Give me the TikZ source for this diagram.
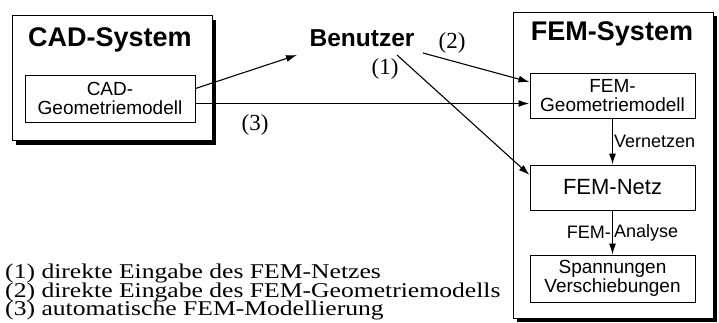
\documentclass[tikz,border=0pt]{standalone}
\usepackage{fontspec}
\setmainfont{Liberation Serif}
\setsansfont{Liberation Sans}
\usetikzlibrary{shadows, arrows.meta}

\tikzset{
  sysbox/.style={draw, fill=white, line width=1pt, inner sep=0pt,
    drop shadow={shadow xshift=4pt, shadow yshift=-4pt, opacity=1, fill=black}},
  modbox/.style={draw, fill=white, line width=1pt, inner sep=0pt, align=center,
    minimum width=165pt, minimum height=45pt, font=\sffamily\fontsize{19}{19.5}\selectfont},
  systitle/.style={font=\sffamily\bfseries\fontsize{27}{30}\selectfont},
  nr/.style={font=\fontsize{23}{25}\selectfont},
  stepname/.style={font=\sffamily\fontsize{18}{20}\selectfont, inner sep=1pt},
  legzeile/.style={anchor=base west, inner sep=0pt, xscale=1.22, transform shape,
    text height=13.5pt, text depth=4pt, font=\fontsize{21}{22}\selectfont},
  pfeil/.style={->, line width=1.1pt}
}

\begin{document}
\begin{tikzpicture}[x=1pt, y=-1pt, >={Latex[length=11pt, width=7pt]}]
  \useasboundingbox (0,0) rectangle (719,322);
  % Systeme
  \node[sysbox, minimum width=200pt, minimum height=125pt] (cad) at (112,78) {};
  \node[systitle] (cadtitle) at (110,40) {CAD-System};
  \node[modbox, minimum width=170pt, minimum height=47pt] (cadgeo) at (110,98.5) {CAD-\\Geometriemodell};
  \node[sysbox, minimum width=200pt, minimum height=306pt] (fem) at (613,165) {};
  \node[systitle] (femtitle) at (612,34) {FEM-System};
  % Modelle im FEM-System
  \node[modbox] (femgeo) at (612.5,95.5) {FEM-\\Geometriemodell};
  \node[modbox, font=\sffamily\fontsize{22}{24}\selectfont] (femnetz) at (612.5,187.5) {FEM-Netz};
  \node[modbox, minimum height=47pt] (spann) at (612.5,278.5) {Spannungen\\Verschiebungen};
  % Benutzer
  \node[font=\sffamily\bfseries\fontsize{24.5}{26}\selectfont] (benutzer) at (362,38) {Benutzer};
  \coordinate (bein) at (297,55);
  \coordinate (baus1) at (397,55);
  \coordinate (baus2) at (423,53);
  % Pfeile
  \draw[pfeil] ([yshift=10pt]cadgeo.east) -- (bein);
  \draw[->, line width=1.6pt] ([yshift=-5pt]cadgeo.east) -- ([yshift=-5pt]cadgeo.east -| femgeo.west);
  \draw[pfeil] (baus2) -- ([yshift=13.5pt]femgeo.west);
  \draw[pfeil] (baus1) -- ([yshift=12.5pt]femnetz.west);
  \draw[pfeil] (femgeo) -- node[stepname, right] (vernetzen) {Vernetzen} (femnetz);
  \draw[pfeil] (femnetz) -- node[stepname, left] (analyse1) {FEM-} node[stepname, right] (analyse2) {Analyse} (spann);
  % Beschriftung
  \node[nr] (n1) at (385,69) {(1)};
  \node[nr] (n2) at (452,43) {(2)};
  \node[nr] (n3) at (255,125) {(3)};
  \node[legzeile] (leg1) at (5,278.5) {(1) direkte Eingabe des FEM-Netzes};
  \node[legzeile] (leg2) at (5,297) {(2) direkte Eingabe des FEM-Geometriemodells};
  \node[legzeile] (leg3) at (5,315.5) {(3) automatische FEM-Modellierung};
\end{tikzpicture}
\end{document}
